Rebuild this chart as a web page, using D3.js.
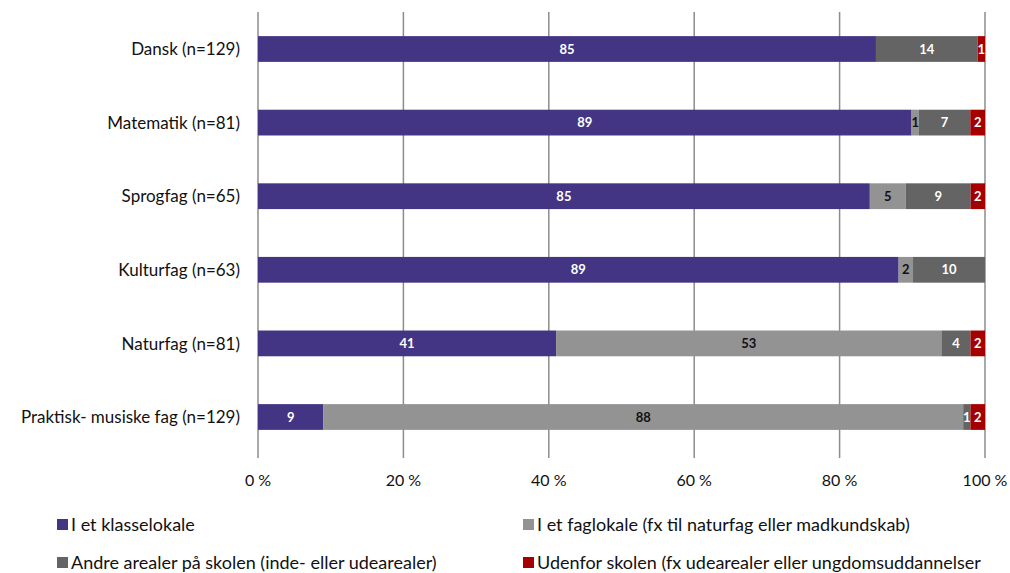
<!DOCTYPE html>
<html>
<head>
<meta charset="utf-8">
<script src="https://cdn.jsdelivr.net/npm/d3@7"></script>
<style>
  html, body { margin: 0; padding: 0; background: #fff; }
  svg { display: block; font-family: "Source Sans Pro", Lato, "Open Sans", sans-serif; }
</style>
</head>
<body>
<svg id="chart" width="1010" height="573"></svg>
<script>
// Subjects, top to bottom
const categories = [
  "Dansk (n=129)",
  "Matematik (n=81)",
  "Sprogfag (n=65)",
  "Kulturfag (n=63)",
  "Naturfag (n=81)",
  "Praktisk- musiske fag (n=129)"
];

// Share of answers (%) per location
const klasselokale = [85, 89, 85, 89, 41, 9];
const faglokale    = [0, 1, 5, 2, 53, 88];
const andreArealer = [14, 7, 9, 10, 4, 1];
const udenfor      = [1, 2, 2, 0, 2, 2];

const seriesNames = [
  "I et klasselokale",
  "I et faglokale (fx til naturfag eller madkundskab)",
  "Andre arealer på skolen (inde- eller udearealer)",
  "Udenfor skolen (fx udearealer eller ungdomsuddannelser"
];
const seriesColors = ["#433584", "#939393", "#646464", "#a50000"];
const labelColors  = ["#ffffff", "#111111", "#ffffff", "#ffffff"];

const tickValues = [0, 0.2, 0.4, 0.6, 0.8, 1];
const tickLabels = ["0 %", "20 %", "40 %", "60 %", "80 %", "100 %"];

const keys = ["k", "f", "a", "u"];
const rows = categories.map((c, i) => ({
  cat: c, k: klasselokale[i], f: faglokale[i], a: andreArealer[i], u: udenfor[i]
}));

const svg = d3.select("#chart");
const W = 1010;
const plot = { left: 258, right: 985, top: 12, bottom: 458 };

const x = d3.scaleLinear().domain([0, 1]).range([plot.left, plot.right]);
const y = d3.scaleBand().domain(categories).range([12.2, 453.8])
  .paddingInner(0.65).paddingOuter(0.325);

// vertical gridlines
svg.append("g").selectAll("line").data(tickValues).join("line")
  .attr("x1", d => x(d)).attr("x2", d => x(d))
  .attr("y1", plot.top).attr("y2", plot.bottom)
  .attr("stroke", "#8c8c8c").attr("stroke-width", 1.5);

// 100 % stacked bars
const stack = d3.stack().keys(keys).offset(d3.stackOffsetExpand);
const stacked = stack(rows);

const layers = svg.append("g").selectAll("g").data(stacked).join("g")
  .attr("fill", (d, i) => seriesColors[i]);

layers.selectAll("rect").data(d => d).join("rect")
  .attr("x", d => x(d[0]))
  .attr("width", d => x(d[1]) - x(d[0]))
  .attr("y", d => y(d.data.cat))
  .attr("height", y.bandwidth());

// value labels
stacked.forEach((layer, li) => {
  svg.append("g").selectAll("text").data(layer.filter(d => d.data[keys[li]] > 0)).join("text")
    .attr("x", d => (x(d[0]) + x(d[1])) / 2)
    .attr("y", d => y(d.data.cat) + y.bandwidth() / 2)
    .attr("dy", "0.36em")
    .attr("text-anchor", "middle")
    .attr("font-size", 13)
    .attr("font-weight", "bold")
    .attr("fill", labelColors[li])
    .text(d => d.data[keys[li]]);
});

// category axis labels
svg.append("g").selectAll("text").data(categories).join("text")
  .attr("x", plot.left - 18)
  .attr("y", d => y(d) + y.bandwidth() / 2)
  .attr("dy", "0.36em")
  .attr("text-anchor", "end")
  .attr("font-size", 17)
  .attr("fill", "#111")
  .text(d => d);

// x tick labels
svg.append("g").selectAll("text").data(tickValues).join("text")
  .attr("x", d => x(d))
  .attr("y", 480)
  .attr("dy", "0.36em")
  .attr("text-anchor", "middle")
  .attr("font-size", 16)
  .attr("fill", "#111")
  .text((d, i) => tickLabels[i]);

// legend
const legendPos = [[57, 525], [523, 525], [57, 563], [523, 563]];
const lg = svg.append("g").selectAll("g").data(seriesNames).join("g")
  .attr("transform", (d, i) => `translate(${legendPos[i][0]},${legendPos[i][1]})`);
lg.append("rect").attr("x", 0).attr("y", -6).attr("width", 11).attr("height", 11)
  .attr("fill", (d, i) => seriesColors[i]);
lg.append("text").attr("x", 14).attr("y", 0).attr("dy", "0.36em")
  .attr("font-size", 18).attr("fill", "#111").text(d => d);
</script>
</body>
</html>
